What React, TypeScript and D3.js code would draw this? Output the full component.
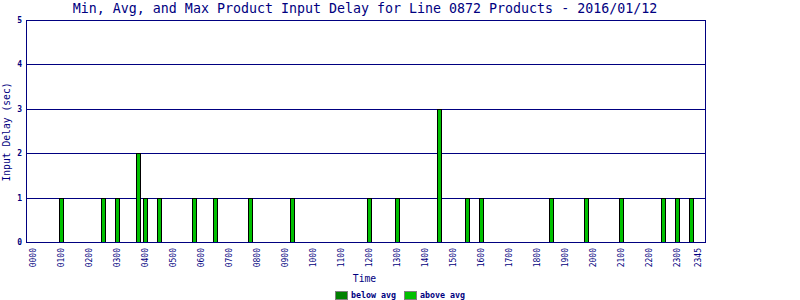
import React from "react";
import * as d3 from "d3";

const slotLabels: string[] = [];
for (let h = 0; h < 24; h++) for (let m = 0; m < 60; m += 15) slotLabels.push(String(h).padStart(2, "0") + String(m).padStart(2, "0"));

const barTimes = ["0100","0230","0300","0345","0400","0430","0545","0630","0745","0915","1200","1300","1430","1530","1600","1830","1945","2100","2230","2300","2330"];
const barValues = [1,1,1,2,1,1,1,1,1,1,1,1,3,1,1,1,1,1,1,1,1];
const tickLabels = ["0000","0100","0200","0300","0400","0500","0600","0700","0800","0900","1000","1100","1200","1300","1400","1500","1600","1700","1800","1900","2000","2100","2200","2300","2345"];
const yTicks = [0,1,2,3,4,5];
const legendItems = [{ label: "below avg", color: "#008000" }, { label: "above avg", color: "#00C000" }];

const NAVY = "#000080";
const MONO = "'DejaVu Sans Mono', monospace";

export default function App() {
  const L = 26, R = 705, T = 20, B = 242;
  const x = d3.scaleLinear().domain([-1, 96]).range([L + 0.8, R + 0.8]);
  const y = d3.scaleLinear().domain([0, 5]).range([B, T]);
  const idx = (t: string) => slotLabels.indexOf(t);
  return (
    <svg width={800} height={300} style={{ position: "absolute", left: 0, top: 0, background: "#fff" }}>
      <rect x={0} y={0} width={800} height={300} fill="#fff" />
      <text x={365} y={13} textAnchor="middle" fill={NAVY} fontFamily={MONO} fontSize={13.3}>
        Min, Avg, and Max Product Input Delay for Line 0872 Products - 2016/01/12
      </text>
      {yTicks.map((v) => (
        <g key={v}>
          {v > 0 && v < 5 && <line x1={L} x2={R} y1={Math.round(y(v)) + 0.5} y2={Math.round(y(v)) + 0.5} stroke={NAVY} strokeWidth={1} />}
          <text x={22} y={Math.round(y(v)) + 3} textAnchor="end" fill={NAVY} fontFamily={MONO} fontSize={8} fontWeight="bold">{v}</text>
        </g>
      ))}
      {barTimes.map((t, i) => {
        const cx = x(idx(t));
        const top = Math.round(y(barValues[i]));
        return (
          <rect key={t} x={Math.round(cx - 2.5) + 0.5} y={top + 0.5} width={4} height={B - top} fill="#00C000" stroke="#000" strokeWidth={1} />
        );
      })}
      <rect x={L + 0.5} y={T + 0.5} width={R - L} height={B - T} fill="none" stroke={NAVY} strokeWidth={1} />
      {tickLabels.map((t) => {
        const cx = x(idx(t)) - 0.8;
        return (
          <text key={t} transform={`translate(${cx + 2.5},248) rotate(-90)`} textAnchor="end" fill={NAVY} fontFamily={MONO} fontSize={8}>
            {t}
          </text>
        );
      })}
      <text x={364.5} y={282} textAnchor="middle" fill={NAVY} fontFamily={MONO} fontSize={9.7}>Time</text>
      <text transform="translate(10,132) rotate(-90)" textAnchor="middle" fill={NAVY} fontFamily={MONO} fontSize={9.7}>Input Delay (sec)</text>
      {legendItems.map((it, i) => {
        const bx = 335.5 + i * 69;
        return (
          <g key={it.label}>
            <rect x={bx} y={291.5} width={12} height={8} fill={it.color} stroke="#808080" strokeWidth={1} />
            <text x={bx + 15.5} y={298} fill={NAVY} fontFamily={MONO} fontSize={8.3} fontWeight="bold">{it.label}</text>
          </g>
        );
      })}
    </svg>
  );
}
